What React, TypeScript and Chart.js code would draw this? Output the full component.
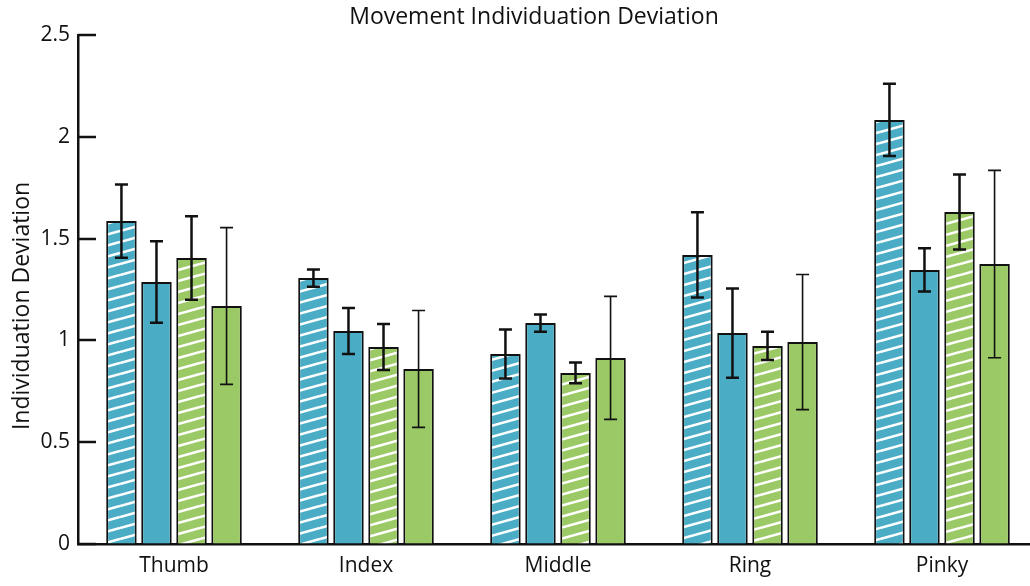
import { useEffect, useRef } from "react";
import { Chart, registerables } from "chart.js";
Chart.register(...registerables);

const categories = ["Thumb", "Index", "Middle", "Ring", "Pinky"];
const seriesNames = ["Blue hatched", "Blue solid", "Green hatched", "Green solid"];
const blueHatched = [1.586, 1.306, 0.933, 1.42, 2.083];
const blueSolid = [1.287, 1.046, 1.085, 1.036, 1.346];
const greenHatched = [1.405, 0.968, 0.84, 0.973, 1.631];
const greenSolid = [1.169, 0.86, 0.914, 0.992, 1.375];
const blueHatchedErr = [0.18, 0.042, 0.12, 0.209, 0.177];
const blueSolidErr = [0.2, 0.113, 0.042, 0.219, 0.106];
const greenHatchedErr = [0.205, 0.113, 0.051, 0.069, 0.184];
const greenSolidErr = [0.385, 0.287, 0.302, 0.332, 0.46];
const yMin = 0;
const yMax = 2.5;
const yStep = 0.5;
const titleText = "Movement Individuation Deviation";
const yTitleText = "Individuation Deviation";

const FONT = "'Open Sans', 'Noto Sans', sans-serif";

export default function App() {
  const ref = useRef<HTMLCanvasElement>(null);

  useEffect(() => {
    document.body.style.overflow = "hidden";
    const blue = "#4bacc6";
    const green = "#9bc965";
    const makeHatch = (color: string) => {
      const c = document.createElement("canvas");
      const W = 40, H = 11;
      c.width = W;
      c.height = H;
      const x = c.getContext("2d")!;
      x.fillStyle = color;
      x.fillRect(0, 0, W, H);
      x.strokeStyle = "#ffffff";
      x.lineWidth = 2.6;
      for (let k = -1; k <= 2; k++) {
        x.beginPath();
        x.moveTo(0, k * H);
        x.lineTo(W, (k - 1) * H);
        x.stroke();
      }
      return x.createPattern(c, "repeat")!;
    };

    const errorBars = {
      id: "errorBars",
      afterDatasetsDraw(chart: any) {
        const ctx = chart.ctx;
        const ys = chart.scales.y;
        chart.data.datasets.forEach((ds: any, i: number) => {
          const meta = chart.getDatasetMeta(i);
          meta.data.forEach((el: any, j: number) => {
            const v = ds.data[j];
            const e = ds.errors[j];
            const x = el.x;
            const yt = ys.getPixelForValue(v + e);
            const yb = ys.getPixelForValue(v - e);
            ctx.save();
            ctx.strokeStyle = "#111111";
            ctx.lineWidth = ds.errorWidth;
            ctx.beginPath();
            ctx.moveTo(x, yt);
            ctx.lineTo(x, yb);
            ctx.moveTo(x - 6.5, yt);
            ctx.lineTo(x + 6.5, yt);
            ctx.moveTo(x - 6.5, yb);
            ctx.lineTo(x + 6.5, yb);
            ctx.stroke();
            ctx.restore();
          });
        });
      },
    };

    const innerTicks = {
      id: "innerTicks",
      afterDraw(chart: any) {
        const ctx = chart.ctx;
        const ys = chart.scales.y;
        const left = chart.chartArea.left;
        ctx.save();
        ctx.strokeStyle = "#111111";
        ctx.lineWidth = 2.5;
        ys.ticks.forEach((t: any) => {
          const py = Math.round(ys.getPixelForValue(t.value));
          ctx.beginPath();
          ctx.moveTo(left, py);
          ctx.lineTo(left + 18, py);
          ctx.stroke();
        });
        // y axis title
        ctx.fillStyle = "#111111";
        ctx.font = `23px ${FONT}`;
        ctx.textAlign = "center";
        ctx.textBaseline = "middle";
        ctx.translate(22, 306);
        ctx.rotate(-Math.PI / 2);
        ctx.fillText(yTitleText, 0, 0);
        ctx.restore();
      },
    };

    const mk = (label: string, data: number[], errors: number[], bg: any, ew: number) => ({
      label,
      data,
      errors,
      errorWidth: ew,
      backgroundColor: bg,
      borderColor: "#111111",
      borderWidth: 2,
      barPercentage: 0.87,
      categoryPercentage: 0.73,
    });

    const chart = new Chart(ref.current!, {
      type: "bar",
      data: {
        labels: categories,
        datasets: [
          mk(seriesNames[0], blueHatched, blueHatchedErr, makeHatch(blue), 2.5),
          mk(seriesNames[1], blueSolid, blueSolidErr, blue, 2.5),
          mk(seriesNames[2], greenHatched, greenHatchedErr, makeHatch(green), 2.5),
          mk(seriesNames[3], greenSolid, greenSolidErr, green, 1.6),
        ] as any,
      },
      options: {
        responsive: false,
        animation: false,
        devicePixelRatio: 1,
        layout: { padding: { left: 30, right: 2, top: 0, bottom: 0 } },
        plugins: {
          legend: { display: false },
          tooltip: { enabled: false },
          title: {
            display: true,
            text: titleText,
            color: "#111111",
            font: { family: FONT, size: 23, weight: "normal" as any, lineHeight: 1.2 },
            padding: { top: 4, bottom: 3.4 },
          },
        },
        scales: {
          x: {
            grid: { display: true, drawOnChartArea: false, drawTicks: false },
            border: { display: true, color: "#111111", width: 2.5 },
            ticks: {
              color: "#111111",
              font: { family: FONT, size: 21 },
              padding: 9,
              maxRotation: 0,
            },
            afterFit(scale: any) {
              scale.height = 42;
            },
          },
          y: {
            min: yMin,
            max: yMax,
            grid: { display: true, drawOnChartArea: false, drawTicks: false },
            border: { display: true, color: "#111111", width: 2.5 },
            ticks: {
              stepSize: yStep,
              color: "#111111",
              font: { family: FONT, size: 21 },
              padding: 8,
              callback: (v: any) => String(v),
            },
            afterFit(scale: any) {
              scale.width = 48;
            },
          },
        },
      },
      plugins: [errorBars, innerTicks],
    });
    return () => chart.destroy();
  }, []);

  return (
    <div style={{ position: "fixed", left: 0, top: 0, width: 1040, height: 586, overflow: "hidden", background: "#fff" }}>
      <canvas ref={ref} width={1040} height={586} style={{ display: "block", width: 1040, height: 586 }} />
    </div>
  );
}
